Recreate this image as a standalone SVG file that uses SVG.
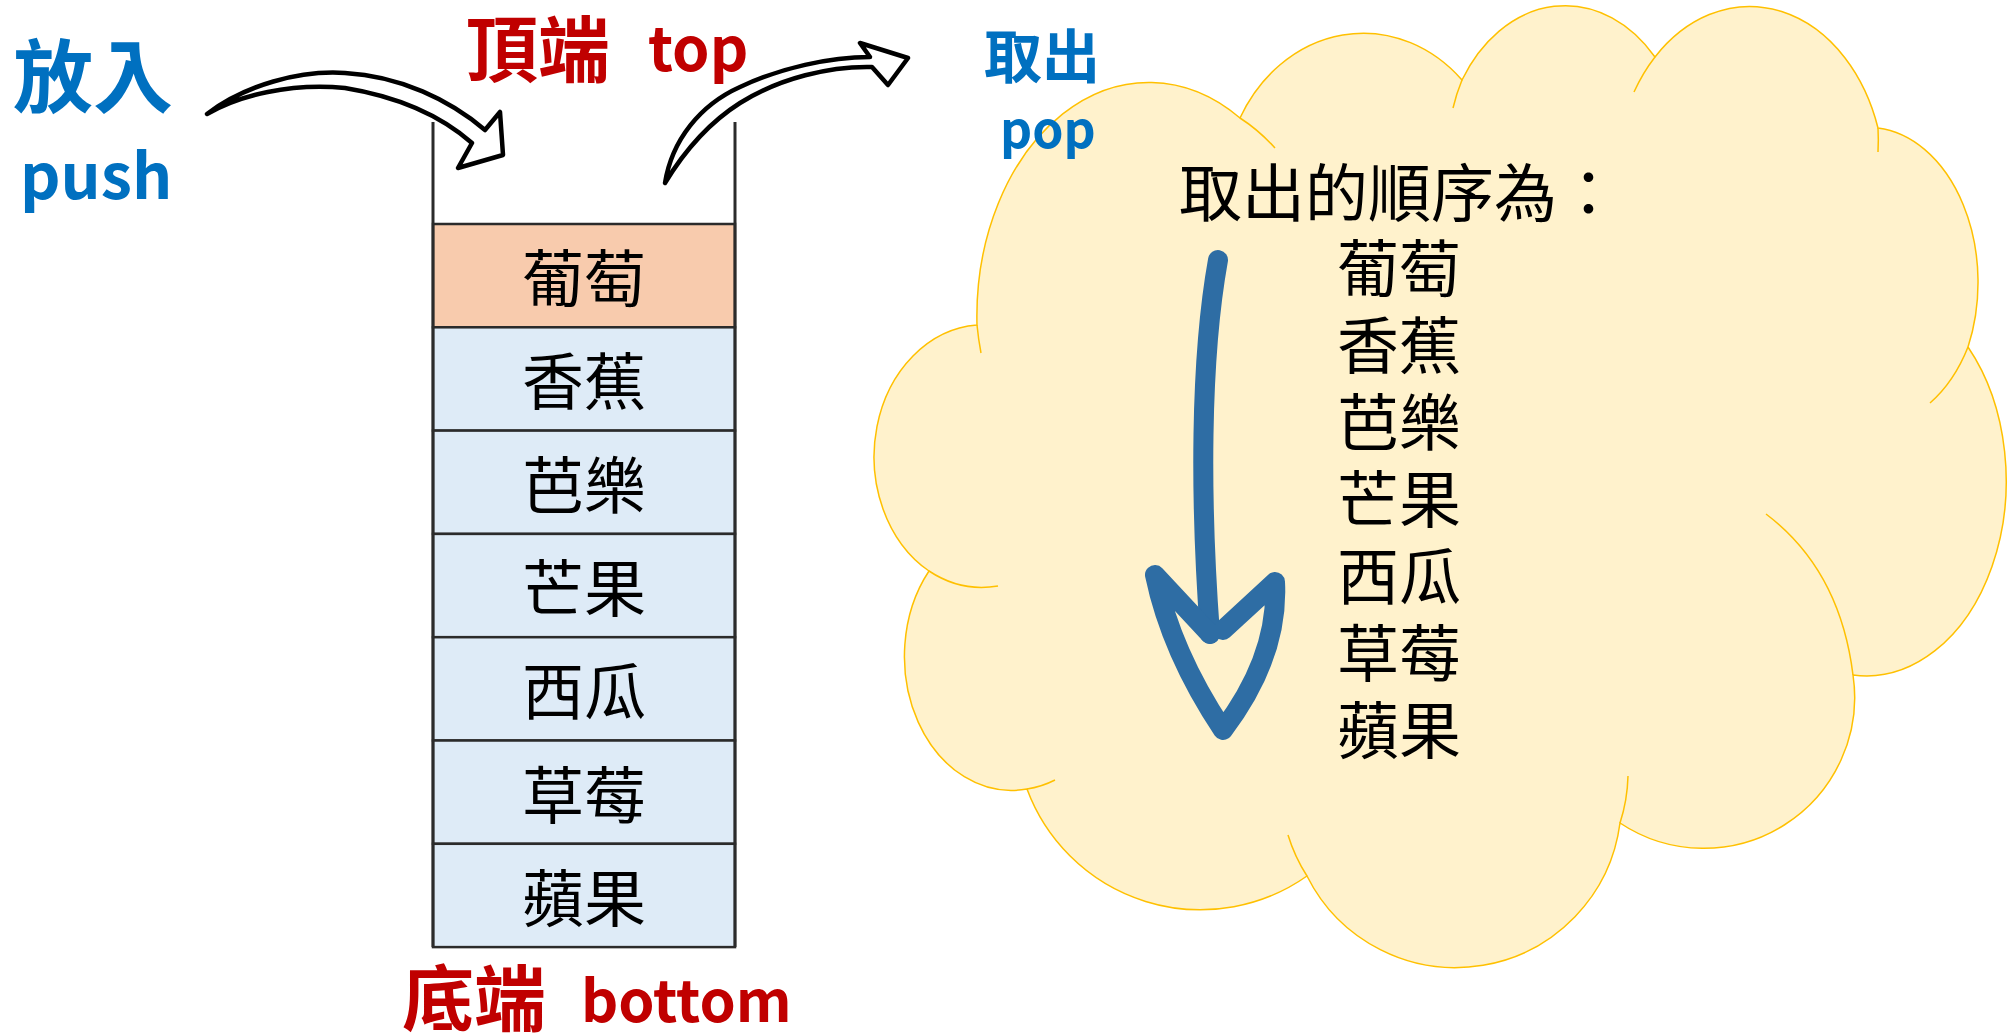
<svg xmlns="http://www.w3.org/2000/svg" width="2015" height="1033" viewBox="0 0 2015 1033">
<defs>
<style>
.cjk{font-family:"Noto Sans CJK TC","Noto Sans CJK SC",sans-serif;font-size:62px;fill:#000;}
.cell{stroke:#2b2b2b;stroke-width:2.5;}
.top{fill:#F8CBAD;}
.low{fill:#DEEBF7;}
.hand{font-family:"Noto Sans CJK TC","Noto Sans CJK SC",sans-serif;font-weight:700;}
.red{fill:#C00000;}
.blue{fill:#0070C0;}
.curve{fill:#fff;stroke:#000;stroke-width:4.5;stroke-linejoin:round;}
.inner{fill:none;stroke:#FFC000;stroke-width:1.5;}
</style>
</defs>
<rect width="2015" height="1033" fill="#fff"/>

<g id="cloud">
<path d="M977,325 A110,132 0 0,0 929,571 A107,134 0 0,0 1027,789 A185,185 0 0,0 1307,876 A166,166 0 0,0 1620,823 A151,151 0 0,0 1853,675 A140,195 0 0,0 1968,347 A110,155 0 0,0 1878,128 A135,176 0 0,0 1655,57 A122,159 0 0,0 1462,80 A140,161 0 0,0 1240,118 A172,234 0 0,0 977,325 Z" fill="#FFF2CC" stroke="#FFC000" stroke-width="1.5"/>
<path class="inner" d="M1240,118 A172,234 0 0,1 1275,148"/>
<path class="inner" d="M977,325 A172,234 0 0,0 981,353"/>
<path class="inner" d="M929,571 A110,132 0 0,0 998,586"/>
<path class="inner" d="M1027,789 A107,134 0 0,0 1055,780"/>
<path class="inner" d="M1307,876 A166,166 0 0,1 1288,835"/>
<path class="inner" d="M1620,823 A166,166 0 0,0 1628,776"/>
<path class="inner" d="M1766,514 Q1840,570 1853,675"/>
<path class="inner" d="M1968,347 A110,155 0 0,1 1930,403"/>
<path class="inner" d="M1878,128 A135,176 0 0,1 1878,152"/>
<path class="inner" d="M1655,57 A135,176 0 0,0 1634,92"/>
<path class="inner" d="M1462,80 A122,159 0 0,0 1453,108"/>
<text class="cjk" x="1179" y="216" style="font-size:63px">取出的順序為：</text>
<text class="cjk" x="1337" y="292">葡萄</text>
<text class="cjk" x="1337" y="369">香蕉</text>
<text class="cjk" x="1337" y="446">芭樂</text>
<text class="cjk" x="1337" y="523">芒果</text>
<text class="cjk" x="1337" y="600">西瓜</text>
<text class="cjk" x="1337" y="677">草莓</text>
<text class="cjk" x="1337" y="754">蘋果</text>
</g>

<g id="stack">
<line x1="433" y1="122" x2="433" y2="224" stroke="#2b2b2b" stroke-width="3"/>
<line x1="735" y1="122" x2="735" y2="224" stroke="#2b2b2b" stroke-width="3"/>
<g id="cell-1"><rect class="cell top" x="433" y="224" width="302" height="103.3"/><text class="cjk" x="584" y="302" text-anchor="middle">葡萄</text></g>
<g id="cell-2"><rect class="cell low" x="433" y="327.3" width="302" height="103.3"/><text class="cjk" x="584" y="405" text-anchor="middle">香蕉</text></g>
<g id="cell-3"><rect class="cell low" x="433" y="430.6" width="302" height="103.3"/><text class="cjk" x="584" y="509" text-anchor="middle">芭樂</text></g>
<g id="cell-4"><rect class="cell low" x="433" y="533.9" width="302" height="103.3"/><text class="cjk" x="584" y="612" text-anchor="middle">芒果</text></g>
<g id="cell-5"><rect class="cell low" x="433" y="637.2" width="302" height="103.3"/><text class="cjk" x="584" y="715" text-anchor="middle">西瓜</text></g>
<g id="cell-6"><rect class="cell low" x="433" y="740.5" width="302" height="103.3"/><text class="cjk" x="584" y="819" text-anchor="middle">草莓</text></g>
<g id="cell-7"><rect class="cell low" x="433" y="843.8" width="302" height="103.3"/><text class="cjk" x="584" y="922" text-anchor="middle">蘋果</text></g>
<line x1="433" y1="224" x2="433" y2="947" stroke="#2b2b2b" stroke-width="3"/>
<line x1="735" y1="224" x2="735" y2="947" stroke="#2b2b2b" stroke-width="3"/>
</g>

<g id="label-push">
<text class="hand blue" x="13" y="106" style="font-size:80px">放入</text>
<text class="hand blue" x="20" y="199" style="font-size:63px">push</text>
</g>
<g id="label-top">
<text class="hand red"><tspan x="466" y="76" style="font-size:72px">頂端</tspan><tspan x="648" y="71" style="font-size:60px">top</tspan></text>
</g>
<g id="label-bottom">
<text class="hand red"><tspan x="402" y="1025" style="font-size:72px">底端</tspan><tspan x="581" y="1022" style="font-size:58px">bottom</tspan></text>
</g>
<g id="label-pop">
<text class="hand blue" x="984" y="78" style="font-size:58px">取出</text>
<text class="hand blue" x="1000" y="148" style="font-size:50px">pop</text>
</g>

<g id="connectors">
<path id="push-arrow" class="curve" d="M207,114 C245,85 300,70 345,73 C400,76 450,100 485,130 L500,112 L503,155 L458,168 L472,143 C440,115 400,97 345,88 C290,83 240,95 207,114 Z"/>
<path id="pop-arrow" class="curve" d="M665,183 C672,140 700,105 740,87 C780,68 830,57 870,57 L860,43 L908,58 L888,85 L872,67 C830,66 780,78 740,103 C710,122 685,150 665,183 Z"/>
<g id="order-arrow" fill="none" stroke="#2E6DA4" stroke-width="20" stroke-linecap="round" stroke-linejoin="round">
<path d="M1218,260 C1200,360 1200,500 1210,634"/>
<path d="M1210,634 L1155,575 Q1171,652 1223,730 Q1279,656 1275,582 L1223,630"/>
</g>
</g>
</svg>
